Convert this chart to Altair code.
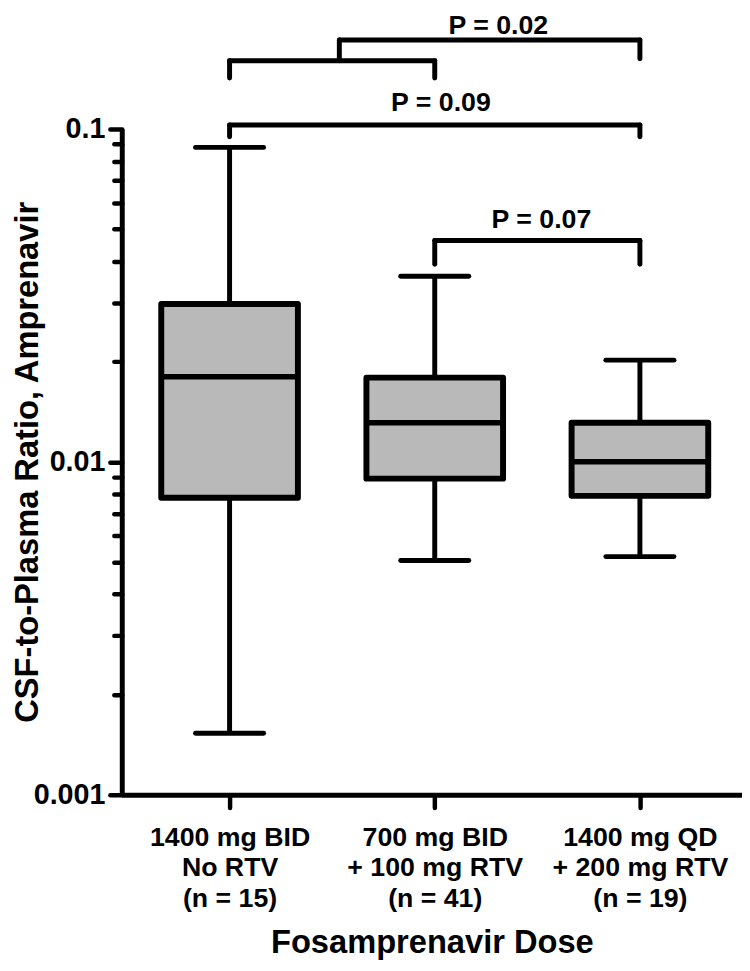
import altair as alt
import pandas as pd

# ---- data ----
groups = ["1400 mg BID|No RTV|(n = 15)",
          "700 mg BID|+ 100 mg RTV|(n = 41)",
          "1400 mg QD|+ 200 mg RTV|(n = 19)"]
positions = [1, 2, 3]
whisker_low = [0.00153, 0.00505, 0.00519]
q1 = [0.0078, 0.0089, 0.0079]
median = [0.0180, 0.0131, 0.0100]
q3 = [0.0298, 0.0179, 0.0131]
whisker_high = [0.088, 0.0361, 0.0202]

# significance brackets (segments: x, x2, y, y2)
seg_x = [1, 1, 2, 1.535, 1.535, 3, 1, 1, 3, 2, 2, 3]
seg_x2 = [2, 1, 2, 1.535, 3, 3, 3, 1, 3, 3, 2, 3]
seg_y = [0.1602, 0.1602, 0.1602, 0.1849, 0.1849, 0.1849, 0.1027, 0.1027, 0.1027, 0.0462, 0.0462, 0.0462]
seg_y2 = [0.1602, 0.1422, 0.1422, 0.1602, 0.1849, 0.1625, 0.1027, 0.0947, 0.0947, 0.0462, 0.0392, 0.0392]

p_labels = ["P = 0.02", "P = 0.09", "P = 0.07"]
p_x = [2.31, 2.03, 2.52]
p_y = [0.193, 0.113, 0.0504]

y_ticks = [round(m * 10 ** e, 6) for e in (-3, -2) for m in range(1, 10)] + [0.1]

BOX_HALF = 0.333
CAP_HALF = 0.166

df = pd.DataFrame({
    "pos": positions, "lo": whisker_low, "q1": q1, "med": median,
    "q3": q3, "hi": whisker_high,
})
df["left"] = df["pos"] - BOX_HALF
df["right"] = df["pos"] + BOX_HALF
df["cl"] = df["pos"] - CAP_HALF
df["cr"] = df["pos"] + CAP_HALF

segs = pd.DataFrame({"x": seg_x, "x2": seg_x2, "y": seg_y, "y2": seg_y2})
ptxt = pd.DataFrame({"label": p_labels, "x": p_x, "y": p_y})

label_expr = ("datum.value == 1 ? ['1400 mg BID','No RTV','(n = 15)'] : "
              "datum.value == 2 ? ['700 mg BID','+ 100 mg RTV','(n = 41)'] : "
              "datum.value == 3 ? ['1400 mg QD','+ 200 mg RTV','(n = 19)'] : ''")

xscale = alt.Scale(domain=[0.4745, 3.4976], nice=False, zero=False)
yscale = alt.Scale(type="log", domain=[0.001, 0.1], nice=False)

FONT = "Liberation Sans"

x_axis = alt.Axis(
    values=[1, 2, 3], labelExpr=label_expr, title="Fosamprenavir Dose",
    grid=False, domainColor="black", domainWidth=5, tickColor="black",
    tickWidth=4.5, tickSize=13, tickCap="round",
    labelFont=FONT, labelFontSize=27, labelFontWeight="bold", labelColor="black",
    labelLineHeight=31, labelPadding=17, labelBaseline="top",
    titleFont=FONT, titleFontSize=33, titleFontWeight="bold", titleColor="black",
    titleBaseline="alphabetic", titleY=160,
)

y_axis = alt.Axis(
    values=y_ticks,
    labelExpr="datum.value == 0.1 ? '0.1' : datum.value == 0.01 ? '0.01' : datum.value == 0.001 ? '0.001' : ''",
    title="CSF-to-Plasma Ratio, Amprenavir",
    grid=False, domainColor="black", domainWidth=5, tickColor="black",
    tickWidth=4.5, tickCap="round",
    tickSize={"condition": {"test": "datum.value == 0.1 || datum.value == 0.01 || datum.value == 0.001", "value": 12}, "value": 8},
    labelFont=FONT, labelFontSize=29, labelFontWeight="bold", labelColor="black",
    labelPadding=5, labelOverlap=False, labelFlush=False,
    titleFont=FONT, titleFontSize=33, titleFontWeight="bold", titleColor="black",
    titleAngle=-90, titleBaseline="alphabetic", titleAlign="center",
    titleX=-85, titleY=336.5,
)

base = alt.Chart(df)

whisk_up = base.mark_rule(color="black", strokeWidth=5).encode(
    x=alt.X("pos:Q", scale=xscale, axis=x_axis),
    y=alt.Y("q3:Q", scale=yscale, axis=y_axis),
    y2="hi:Q",
)
whisk_dn = base.mark_rule(color="black", strokeWidth=5).encode(
    x="pos:Q", y="lo:Q", y2="q1:Q",
)
cap_hi = base.mark_rule(color="black", strokeWidth=5, strokeCap="round").encode(
    x="cl:Q", x2="cr:Q", y="hi:Q",
)
cap_lo = base.mark_rule(color="black", strokeWidth=5, strokeCap="round").encode(
    x="cl:Q", x2="cr:Q", y="lo:Q",
)
boxes = base.mark_rect(fill="#b9b9b9", stroke="black", strokeWidth=6,
                       strokeJoin="round").encode(
    x="left:Q", x2="right:Q", y="q1:Q", y2="q3:Q",
)
med = base.mark_rule(color="black", strokeWidth=5.5).encode(
    x="left:Q", x2="right:Q", y="med:Q",
)

brackets = alt.Chart(segs).mark_rule(color="black", strokeWidth=5,
                                     strokeCap="round").encode(
    x="x:Q", x2="x2:Q", y="y:Q", y2="y2:Q",
)
ptext = alt.Chart(ptxt).mark_text(font=FONT, fontSize=27, fontWeight="bold",
                                  color="black", align="center",
                                  baseline="alphabetic").encode(
    x="x:Q", y="y:Q", text="label:N",
)

chart = alt.layer(
    whisk_up, whisk_dn, cap_hi, cap_lo, boxes, med, brackets, ptext
).properties(
    width=627, height=673,
    autosize=alt.AutoSizeParams(type="none"),
    padding={"left": 115, "top": 117, "right": 0, "bottom": 170},
).configure(background="white").configure_view(stroke=None)

chart.save("out.html", embed_options={"renderer": "svg", "actions": False})
